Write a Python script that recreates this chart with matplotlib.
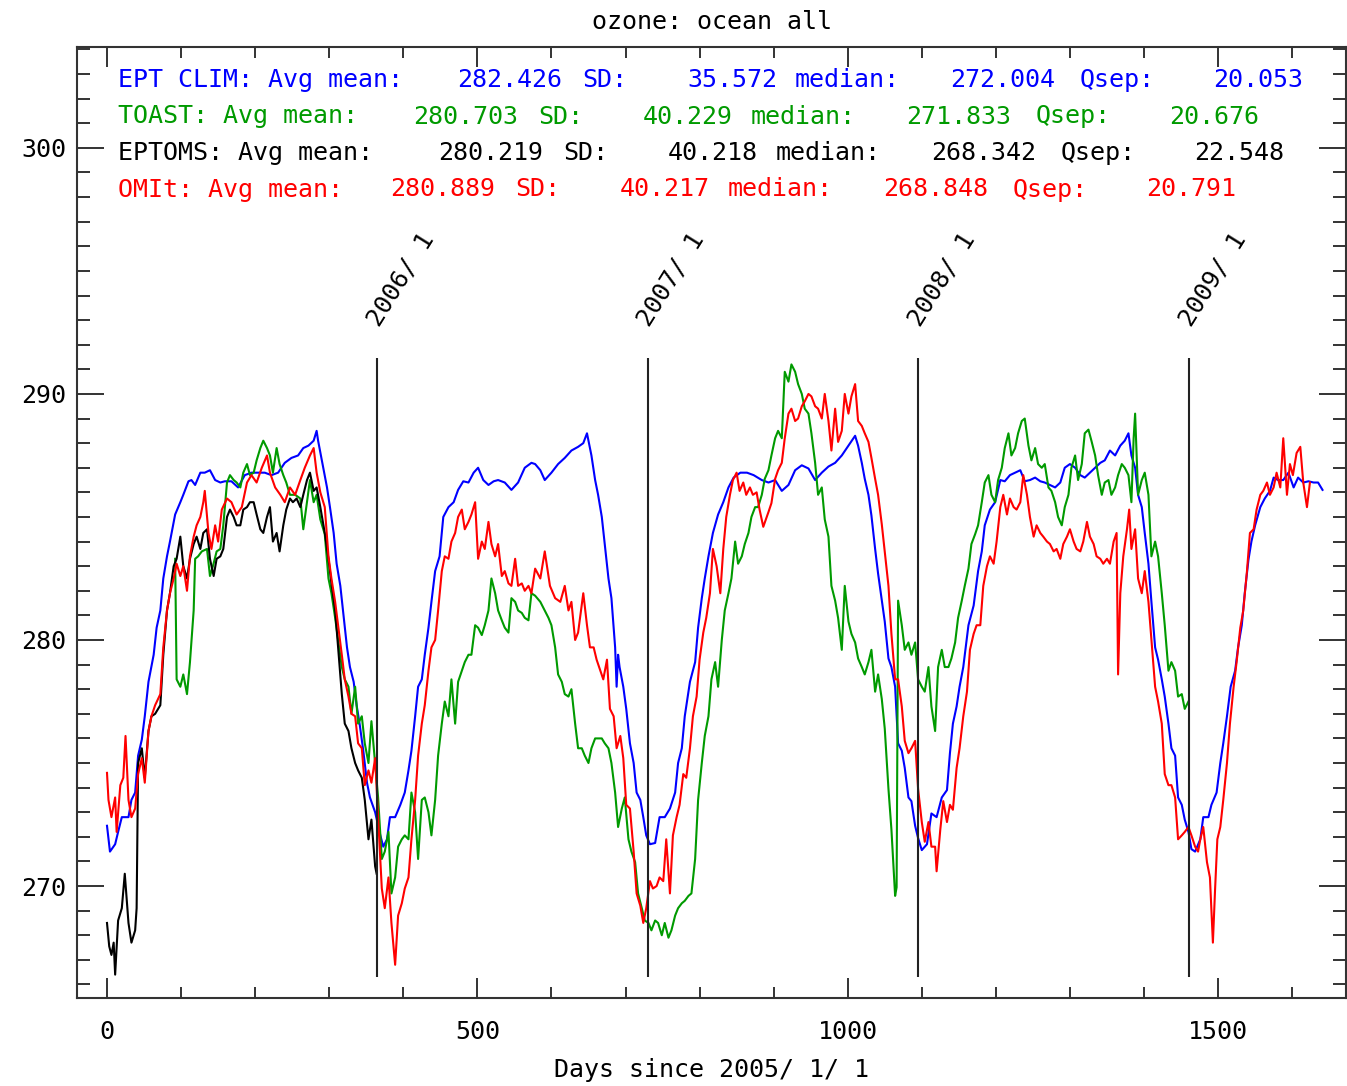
import matplotlib.pyplot as plt
from matplotlib.ticker import MultipleLocator

# daily zonal-mean ozone over ocean, days since 2005/1/1
clim_days = [0, 4, 11, 15, 20, 29, 33, 38, 42, 47, 51, 56, 63, 67, 72, 76, 81, 85, 92, 99, 103, 110, 114, 119, 126, 132, 139, 146, 153, 159, 168, 177, 186, 195, 204, 213, 222, 231, 240, 249, 258, 265, 272, 279, 283,
             285, 292, 297, 301, 306, 310, 315, 319, 324, 328, 333, 337, 341, 346, 351, 355, 362, 369, 373, 378, 382, 389, 396, 402, 407, 411, 416, 420, 425, 429, 434, 438, 443, 449, 454, 461, 468, 474, 481, 488, 495, 501, 508, 515, 522, 528, 537, 546, 555, 564, 573,
             578, 585, 591, 600, 609, 618, 627, 636, 643, 648, 654, 659, 663, 668, 672, 677, 681, 686, 688, 690, 692, 697, 701, 706, 711, 715, 720, 724, 728, 733, 740, 746, 753, 760, 767, 771, 776, 780, 787, 794, 798, 803, 807, 812, 818, 825, 832, 839, 846, 855, 864, 873,
             884, 893, 902, 911, 920, 929, 938, 947, 956, 965, 974, 983, 992, 1001, 1010, 1014, 1019, 1023, 1028, 1032, 1037, 1041, 1046, 1050, 1055, 1059, 1064, 1068, 1073, 1077, 1082, 1086, 1091, 1095, 1100, 1107, 1113, 1120, 1127, 1134, 1138, 1142, 1147, 1151, 1156, 1163, 1170,
             1176, 1181, 1185, 1192, 1199, 1206, 1212, 1219, 1226, 1233, 1239, 1246, 1253, 1260, 1266, 1273, 1280, 1287, 1293, 1300, 1307, 1314, 1320, 1327, 1334, 1341, 1347, 1354, 1361, 1368, 1374, 1379, 1383, 1388, 1392, 1397, 1401, 1406, 1410, 1415, 1419, 1424, 1428, 1433, 1437, 1442, 1446, 1451, 1455, 1460, 1464,
             1469, 1476, 1480, 1487, 1491, 1498, 1503, 1507, 1512, 1517, 1523, 1527, 1532, 1536, 1541, 1545, 1550, 1557, 1563, 1570, 1575, 1581, 1588, 1595, 1602, 1608, 1615, 1622, 1629, 1635, 1641]
clim_vals = [272.45, 271.4, 271.7, 272.2, 272.8, 272.8, 273.5, 273.8, 275.3, 275.95, 276.9, 278.3, 279.4, 280.5, 281.2, 282.5, 283.4, 284.0, 285.1, 285.6, 285.9, 286.45, 286.5, 286.3, 286.8, 286.8, 286.9, 286.5, 286.4, 286.45, 286.45, 286.2, 286.7, 286.8, 286.8, 286.8, 286.7, 286.8, 287.2, 287.4, 287.5, 287.8, 287.9, 288.1, 288.5,
             288.1, 287.0, 286.2, 285.4, 284.35, 283.1, 282.2, 281.1, 279.7, 278.9, 278.3, 277.35, 276.6, 275.5, 274.2, 273.6, 273.0, 272.06, 271.6, 271.9, 272.8, 272.8, 273.3, 273.8, 274.7, 275.5, 276.9, 278.1, 278.4, 279.4, 280.5, 281.55, 282.8, 283.4, 285.0, 285.4, 285.6, 286.1, 286.45, 286.4, 286.8, 287.0, 286.5, 286.3, 286.45, 286.5, 286.4, 286.1, 286.4, 287.0, 287.2,
             287.15, 286.9, 286.5, 286.8, 287.15, 287.4, 287.7, 287.85, 288.0, 288.4, 287.5, 286.5, 285.9, 285.0, 283.9, 282.5, 281.7, 279.7, 278.1, 279.4, 278.9, 278.1, 277.2, 275.8, 275.0, 273.8, 273.5, 272.8, 272.06, 271.7, 271.75, 272.8, 272.8, 273.15, 273.8, 275.0, 275.6, 276.9, 278.3, 279.1, 280.5, 281.7, 282.5, 283.4, 284.35, 285.1, 285.6, 286.2, 286.6, 286.8, 286.8, 286.7,
             286.5, 286.4, 286.5, 286.06, 286.3, 286.9, 287.1, 286.97, 286.5, 286.8, 287.05, 287.2, 287.5, 287.9, 288.3, 287.9, 287.2, 286.55, 285.9, 285.06, 283.7, 282.7, 281.6, 280.75, 279.25, 278.9, 278.1, 275.8, 275.5, 274.8, 273.6, 273.45, 272.45, 271.95, 271.46, 271.7, 272.95, 272.8, 273.6, 273.9, 275.4, 276.6, 277.3, 278.1, 278.9, 280.6, 281.4,
             282.8, 283.6, 284.66, 285.3, 285.6, 286.5, 286.45, 286.7, 286.8, 286.9, 286.45, 286.5, 286.6, 286.45, 286.4, 286.3, 286.2, 286.4, 287.0, 287.15, 287.0, 286.7, 286.6, 286.8, 287.0, 287.2, 287.3, 287.7, 287.5, 287.9, 288.1, 288.4, 287.5, 287.0, 285.9, 285.4, 284.35, 283.1, 281.55, 279.7, 279.2, 278.4, 277.7, 276.6, 275.6, 275.3, 273.6, 273.3, 272.7, 272.2, 271.5,
             271.4, 271.9, 272.8, 272.8, 273.3, 273.8, 275.0, 275.8, 276.9, 278.1, 278.75, 279.7, 280.6, 281.9, 283.26, 284.0, 284.66, 285.4, 285.75, 286.06, 286.6, 286.5, 286.5, 286.8, 286.2, 286.6, 286.4, 286.45, 286.4, 286.4, 286.1]

toast_days = [92, 94, 99, 103, 108, 112, 117, 119, 123, 128, 135, 139, 143, 148, 153, 157, 162, 166, 171, 175, 180, 184, 189, 193, 198, 202, 207, 211, 216, 220, 224, 229, 233, 238, 242, 247, 254, 261, 265, 270, 274, 279, 283, 288,
              294, 299, 303, 308, 312, 317, 321, 326, 330, 335, 339, 344, 348, 353, 357, 362, 366, 371, 375, 380, 384, 389, 393, 398, 402, 407, 411, 416, 420, 425, 429, 434, 438, 443, 447, 452, 456, 461, 465, 470, 474, 479, 483, 488, 492, 497, 501, 506, 510, 515, 519, 524, 528, 533, 537, 542, 546, 551, 555, 560, 564, 569, 573,
              578, 585, 591, 596, 600, 605, 609, 614, 618, 623, 627, 632, 636, 641, 645, 650, 654, 659, 663, 668, 672, 677, 681, 686, 690, 695, 699, 704, 708, 713, 717, 722, 726, 731, 735, 740, 744, 749, 753, 758, 762, 767, 771, 776, 780, 785, 789, 794, 798, 803, 807, 812, 816, 821, 825, 830, 834, 839, 843, 848, 852, 857, 861, 866, 870, 875,
              879, 884, 888, 893, 897, 902, 906, 911, 915, 920, 924, 929, 933, 938, 942, 947, 951, 956, 960, 965, 969, 974, 978, 983, 987, 992, 996, 1001, 1005, 1010, 1014, 1019, 1023, 1028, 1032, 1037, 1041, 1046, 1050, 1055, 1059, 1064, 1066, 1068, 1073, 1077, 1082, 1086, 1091, 1095, 1100, 1104, 1109, 1113, 1118, 1122, 1127, 1131, 1136, 1140, 1145, 1149, 1154, 1158, 1163, 1167,
              1172, 1176, 1181, 1185, 1190, 1194, 1199, 1203, 1208, 1212, 1217, 1221, 1226, 1230, 1235, 1239, 1244, 1248, 1253, 1257, 1262, 1266, 1271, 1275, 1280, 1284, 1289, 1293, 1298, 1302, 1307, 1311, 1316, 1320, 1325, 1329, 1334, 1338, 1343, 1347, 1352, 1356, 1361, 1365, 1370, 1374, 1379, 1383, 1386, 1388, 1392, 1397, 1401, 1406, 1410, 1415, 1419, 1424, 1428, 1433, 1437, 1442, 1446, 1451, 1455, 1460]
toast_vals = [283.3, 278.4, 278.1, 278.6, 277.8, 279.1, 281.2, 283.3, 283.4, 283.6, 283.7, 282.6, 283.0, 283.6, 283.7, 284.66, 286.4, 286.7, 286.5, 286.4, 286.2, 286.8, 287.15, 286.7, 286.8, 287.3, 287.8, 288.1, 287.8, 287.5, 286.8, 287.8, 287.15, 286.7, 286.4, 285.9, 285.9, 285.75, 284.5, 285.6, 286.5, 285.6, 285.9, 284.9,
              284.3, 282.5, 281.9, 280.9, 280.0, 278.9, 278.4, 278.1, 277.0, 278.1, 276.6, 276.9, 275.8, 275.0, 276.7, 275.0, 273.6, 271.1, 271.4, 272.2, 269.7, 270.35, 271.6, 271.9, 272.06, 271.9, 273.8, 273.0, 271.1, 273.5, 273.6, 273.0, 272.06, 273.5, 275.3, 276.6, 277.5, 276.9, 278.4, 276.6, 278.3, 278.75, 279.1, 279.4, 279.4, 280.6, 280.5, 280.2, 280.6, 281.2, 282.5, 281.9, 281.2, 280.8, 280.5, 280.3, 281.7, 281.55, 281.2, 281.1, 280.9, 280.8, 281.9,
              281.8, 281.55, 281.2, 280.9, 280.6, 279.7, 278.6, 278.3, 277.8, 277.7, 278.0, 276.6, 275.6, 275.6, 275.3, 275.0, 275.6, 276.0, 276.0, 276.0, 275.8, 275.6, 275.0, 273.8, 272.4, 273.15, 273.6, 271.9, 271.4, 270.97, 269.7, 269.1, 268.6, 268.5, 268.2, 268.6, 268.5, 268.0, 268.5, 267.9, 268.2, 268.8, 269.1, 269.3, 269.4, 269.6, 269.7, 271.1, 273.5, 275.0, 276.1, 276.9, 278.4, 279.1, 278.1, 280.0, 281.2, 281.9, 282.5, 284.0, 283.1, 283.4, 283.9, 284.35, 285.0, 285.4,
              285.4, 285.9, 286.55, 286.9, 287.5, 288.2, 288.5, 288.2, 290.9, 290.5, 291.2, 290.9, 290.4, 290.0, 289.4, 289.2, 288.4, 287.2, 285.9, 286.2, 284.9, 284.2, 282.2, 281.6, 280.9, 279.6, 282.2, 280.75, 280.25, 279.9, 279.25, 278.9, 278.6, 279.1, 279.6, 277.9, 278.6, 277.6, 276.4, 273.95, 272.3, 269.6, 269.95, 281.6, 280.6, 279.6, 279.9, 279.4, 279.9, 278.4, 278.1, 277.9, 278.9, 277.3, 276.3, 278.9, 279.6, 278.9, 278.9, 279.25, 279.9, 280.9, 281.6, 282.2, 282.9, 283.9,
              284.3, 284.66, 285.6, 286.4, 286.7, 285.9, 285.6, 286.5, 287.0, 287.8, 288.4, 287.5, 287.8, 288.4, 288.9, 289.0, 287.9, 287.3, 287.8, 287.15, 287.0, 287.15, 286.2, 286.06, 285.6, 285.0, 284.66, 285.4, 285.9, 287.0, 287.5, 286.5, 287.15, 288.4, 288.55, 288.1, 287.5, 286.7, 285.9, 286.4, 286.5, 285.9, 286.2, 286.7, 287.15, 287.0, 286.7, 285.6, 288.2, 289.2, 285.9, 286.5, 286.8, 285.9, 283.4, 284.0, 283.4, 281.9, 280.6, 278.75, 279.1, 278.75, 277.7, 277.8, 277.2, 277.5]

eptoms_days = [0, 3, 6, 9, 11, 15, 20, 24, 29, 33, 38, 40, 42, 47, 51, 56, 60, 65, 72, 76, 81, 85, 90, 94, 99, 103, 108, 112, 117, 121, 126, 130, 135, 139, 144, 148, 153, 157, 162, 166, 171, 175, 180, 184, 189, 193, 198, 202, 207, 211, 216, 220, 224, 229, 233, 238, 242, 247, 251, 256, 261, 265, 270, 274, 279, 283, 288,
               294, 299, 303, 308, 312, 317, 321, 326, 330, 335, 339, 344, 348, 353, 357, 362, 364]
eptoms_vals = [268.5, 267.55, 267.2, 267.7, 266.4, 268.6, 269.1, 270.5, 268.5, 267.7, 268.2, 269.1, 275.0, 275.6, 274.4, 276.3, 276.9, 277.0, 277.35, 279.4, 281.2, 281.9, 283.0, 283.3, 284.2, 283.0, 282.5, 283.3, 283.9, 284.2, 283.7, 284.35, 284.5, 283.3, 282.6, 283.3, 283.4, 283.7, 285.0, 285.3, 285.0, 284.66, 284.66, 285.3, 285.4, 285.6, 285.6, 285.1, 284.5, 284.35, 285.0, 285.4, 284.0, 284.35, 283.6, 284.66, 285.3, 285.75, 285.6, 285.75, 285.4, 285.9, 286.5, 286.8, 286.06, 286.2, 285.4,
               284.35, 283.3, 282.3, 281.2, 279.7, 277.8, 276.6, 276.3, 275.6, 275.0, 274.7, 274.4, 273.5, 271.9, 272.7, 270.8, 270.5]

omi_days = [0, 2, 6, 11, 13, 18, 22, 25, 29, 33, 38, 42, 47, 51, 56, 60, 65, 72, 76, 81, 85, 90, 94, 99, 103, 108, 112, 117, 121, 126, 130, 132, 137, 141, 146, 150, 155, 162, 168, 175, 182, 189, 195, 202, 209, 216, 220, 227, 234, 240, 247, 254, 261, 267, 274, 279,
            283, 288, 294, 299, 303, 308, 312, 317, 321, 326, 330, 335, 339, 344, 348, 353, 357, 362, 366, 371, 375, 380, 384, 389, 393, 398, 402, 407, 411, 416, 420, 425, 429, 434, 438, 443, 447, 452, 456, 461, 465, 470, 474, 479, 483, 488, 492, 497, 501, 506, 510, 515, 519, 524, 528, 533, 537, 542, 546, 551, 555, 560, 564, 569, 573,
            578, 585, 591, 598, 605, 612, 618, 623, 627, 632, 636, 643, 648, 652, 657, 661, 666, 670, 675, 679, 684, 688, 693, 697, 701, 706, 711, 715, 720, 724, 728, 733, 737, 742, 746, 751, 755, 760, 764, 769, 773, 778, 782, 787, 791, 796, 800, 805, 809, 814, 818, 823, 828, 832, 836, 841, 845, 850, 854, 859, 863, 868, 872,
            877, 881, 886, 893, 897, 902, 906, 911, 915, 920, 924, 929, 933, 938, 942, 947, 951, 956, 960, 965, 969, 974, 978, 983, 987, 992, 996, 1001, 1005, 1010, 1014, 1019, 1023, 1028, 1032, 1037, 1041, 1046, 1050, 1055, 1059, 1064, 1068, 1073, 1077, 1082, 1086, 1091, 1095, 1100, 1104, 1109, 1113, 1118, 1120, 1125, 1129, 1134, 1138, 1142, 1147, 1151, 1156, 1161, 1165, 1170,
            1174, 1179, 1183, 1188, 1192, 1197, 1201, 1206, 1210, 1215, 1219, 1224, 1228, 1233, 1237, 1242, 1246, 1251, 1255, 1260, 1264, 1269, 1273, 1278, 1282, 1287, 1291, 1296, 1300, 1305, 1309, 1314, 1318, 1323, 1327, 1332, 1336, 1341, 1345, 1350, 1354, 1359, 1363, 1365, 1368, 1372, 1377, 1380, 1383, 1388, 1392, 1397, 1401, 1406, 1410, 1415, 1419, 1424, 1428, 1433, 1437, 1442, 1446, 1451, 1455, 1460, 1464, 1469, 1473,
            1476, 1480, 1485, 1489, 1493, 1496, 1499, 1503, 1507, 1512, 1516, 1521, 1525, 1530, 1534, 1539, 1543, 1548, 1552, 1557, 1561, 1566, 1570, 1575, 1579, 1584, 1588, 1593, 1597, 1601, 1606, 1611, 1615, 1620, 1624]
omi_vals = [274.6, 273.5, 272.8, 273.6, 272.2, 274.1, 274.4, 276.1, 273.5, 272.8, 273.15, 274.55, 275.2, 274.2, 276.3, 276.9, 277.35, 277.8, 279.7, 281.2, 281.9, 282.5, 283.1, 282.6, 283.0, 282.0, 283.4, 284.2, 284.66, 285.0, 285.6, 286.06, 284.35, 283.7, 284.66, 284.0, 285.3, 285.75, 285.6, 285.1, 285.4, 286.4, 286.7, 286.4, 287.0, 287.5, 286.8, 286.2, 285.9, 285.6, 286.2, 285.9, 286.5, 287.0, 287.5, 287.8,
            286.8, 286.0, 285.4, 283.4, 282.5, 281.55, 280.6, 279.4, 278.4, 277.7, 277.0, 276.9, 275.8, 275.6, 274.1, 274.7, 274.2, 275.2, 272.8, 269.9, 269.1, 270.35, 268.5, 266.8, 268.8, 269.3, 269.9, 270.35, 271.9, 273.5, 275.3, 276.6, 277.35, 278.75, 279.7, 280.0, 281.2, 282.8, 283.4, 283.3, 284.0, 284.35, 285.0, 285.3, 284.5, 284.8, 285.1, 285.6, 283.3, 284.0, 283.7, 284.8, 283.9, 283.4, 283.9, 282.6, 282.8, 282.3, 282.2, 283.3, 282.2, 282.3, 282.0, 282.2, 281.9,
            282.9, 282.5, 283.6, 282.2, 281.7, 281.55, 282.2, 281.2, 281.55, 280.0, 280.3, 281.9, 280.6, 279.7, 279.7, 279.2, 278.75, 278.4, 279.2, 277.2, 276.9, 275.6, 276.1, 275.2, 273.3, 273.15, 271.4, 269.7, 269.2, 268.5, 269.1, 270.2, 269.9, 270.0, 270.35, 270.2, 271.9, 269.7, 272.06, 272.8, 273.3, 274.55, 274.4, 275.6, 276.9, 277.7, 279.2, 280.3, 280.9, 281.9, 283.7, 283.0, 281.9, 283.7, 285.0, 285.9, 286.5, 286.8, 286.06, 286.4, 285.9, 286.2, 285.9,
            286.0, 285.3, 284.6, 285.2, 285.56, 286.55, 286.9, 287.2, 288.2, 289.2, 289.4, 288.9, 289.0, 289.5, 289.7, 290.0, 289.9, 289.5, 289.4, 289.0, 290.0, 288.9, 287.7, 289.4, 288.05, 288.5, 290.0, 289.2, 289.9, 290.4, 288.9, 288.7, 288.4, 288.05, 287.4, 286.55, 285.9, 284.7, 283.57, 282.2, 280.25, 278.4, 278.4, 277.3, 275.9, 275.4, 275.6, 275.9, 273.95, 272.6, 271.8, 272.6, 271.6, 271.6, 270.6, 272.3, 273.45, 272.6, 273.3, 273.1, 274.8, 275.6, 276.9, 277.9, 279.6, 280.25,
            280.6, 280.6, 282.2, 283.0, 283.4, 283.1, 284.0, 285.4, 285.9, 285.1, 285.75, 285.4, 285.3, 285.6, 286.7, 285.9, 285.0, 284.2, 284.66, 284.35, 284.2, 284.0, 283.9, 283.6, 283.7, 283.3, 283.9, 284.2, 284.5, 284.0, 283.7, 283.6, 284.0, 284.8, 284.2, 283.9, 283.4, 283.3, 283.1, 283.3, 283.1, 284.0, 284.35, 278.6, 281.9, 283.4, 284.5, 285.3, 283.7, 284.5, 282.5, 281.9, 282.8, 281.55, 280.0, 278.1, 277.5, 276.6, 274.55, 274.1, 274.1, 273.6, 271.9, 272.06, 272.2, 272.4, 272.06, 271.6, 271.4,
            271.9, 272.4, 270.97, 270.35, 267.7, 269.9, 271.9, 272.4, 273.5, 275.0, 276.6, 278.1, 279.1, 280.5, 281.2, 282.8, 284.35, 284.5, 285.3, 285.9, 286.06, 286.4, 285.9, 286.2, 286.8, 286.2, 288.2, 285.9, 287.15, 286.7, 287.6, 287.85, 286.4, 285.4, 286.4]

# summary statistics printed above the curves
names = ['EPT CLIM', 'TOAST', 'EPTOMS', 'OMIt']
avg_mean = [282.426, 280.703, 280.219, 280.889]
sd = [35.572, 40.229, 40.218, 40.217]
median = [272.004, 271.833, 268.342, 268.848]
qsep = [20.053, 20.676, 22.548, 20.791]
colors = ['#0000ff', '#009a00', '#000000', '#ff0000']

year_days = [365, 730, 1095, 1461]
year_labels = ['2006/ 1', '2007/ 1', '2008/ 1', '2009/ 1']

W, H = 1347, 1086
FS = 18
plt.rcParams['font.family'] = 'DejaVu Sans Mono'

fig = plt.figure(figsize=(W / 100, H / 100), dpi=100)
ax = fig.add_axes([77 / W, 1 - 998 / H, (1346 - 77) / W, (998 - 47) / H])

series = [(clim_days, clim_vals), (toast_days, toast_vals),
          (eptoms_days, eptoms_vals), (omi_days, omi_vals)]
for (d, v), c in zip(series, colors):
    ax.plot(d, v, color=c, lw=1.5)

ax.vlines(year_days, 266.3, 291.45, color='#222222', lw=1.5)
for d, lab in zip(year_days, year_labels):
    ax.text(d + 2, 292.7, lab, rotation=58, rotation_mode='anchor',
            ha='left', va='baseline', fontsize=FS)

ax.set_xlim(-40.5, 1672.7)
ax.set_ylim(265.45, 304.1)
ax.xaxis.set_major_locator(MultipleLocator(500))
ax.xaxis.set_minor_locator(MultipleLocator(100))
ax.yaxis.set_major_locator(MultipleLocator(10))
ax.yaxis.set_minor_locator(MultipleLocator(1))
ax.tick_params(which='both', direction='in', top=True, right=True,
               width=1.4, color='#333333', labelsize=FS)
ax.tick_params(axis='x', which='major', length=14.4, pad=16)
ax.tick_params(axis='x', which='minor', length=7.9)
ax.tick_params(axis='y', which='major', length=19.4, pad=8)
ax.tick_params(axis='y', which='minor', length=9.4)
for s in ax.spines.values():
    s.set_linewidth(1.5)
    s.set_color('#333333')

ax.set_title('ozone: ocean all', fontsize=FS, pad=13)
ax.set_xlabel('Days since 2005/ 1/ 1', fontsize=FS, labelpad=10)

# stats block: label, then fixed-width fields
value_x = [457, 413, 438, 390]
field_dx = [0, 125, 230, 338, 493, 623, 756]
baselines = [87, 123.5, 160, 196.5]
for i in range(4):
    fields = ['%.3f' % avg_mean[i], 'SD:', '%.3f' % sd[i], 'median:',
              '%.3f' % median[i], 'Qsep:', '%.3f' % qsep[i]]
    y = 1 - baselines[i] / H
    fig.text(118 / W, y, names[i] + ': Avg mean:', color=colors[i],
             fontsize=FS, va='baseline')
    for dx, f in zip(field_dx, fields):
        fig.text((value_x[i] + dx) / W, y, f, color=colors[i],
                 fontsize=FS, va='baseline')

fig.savefig('out.png', dpi=100)
